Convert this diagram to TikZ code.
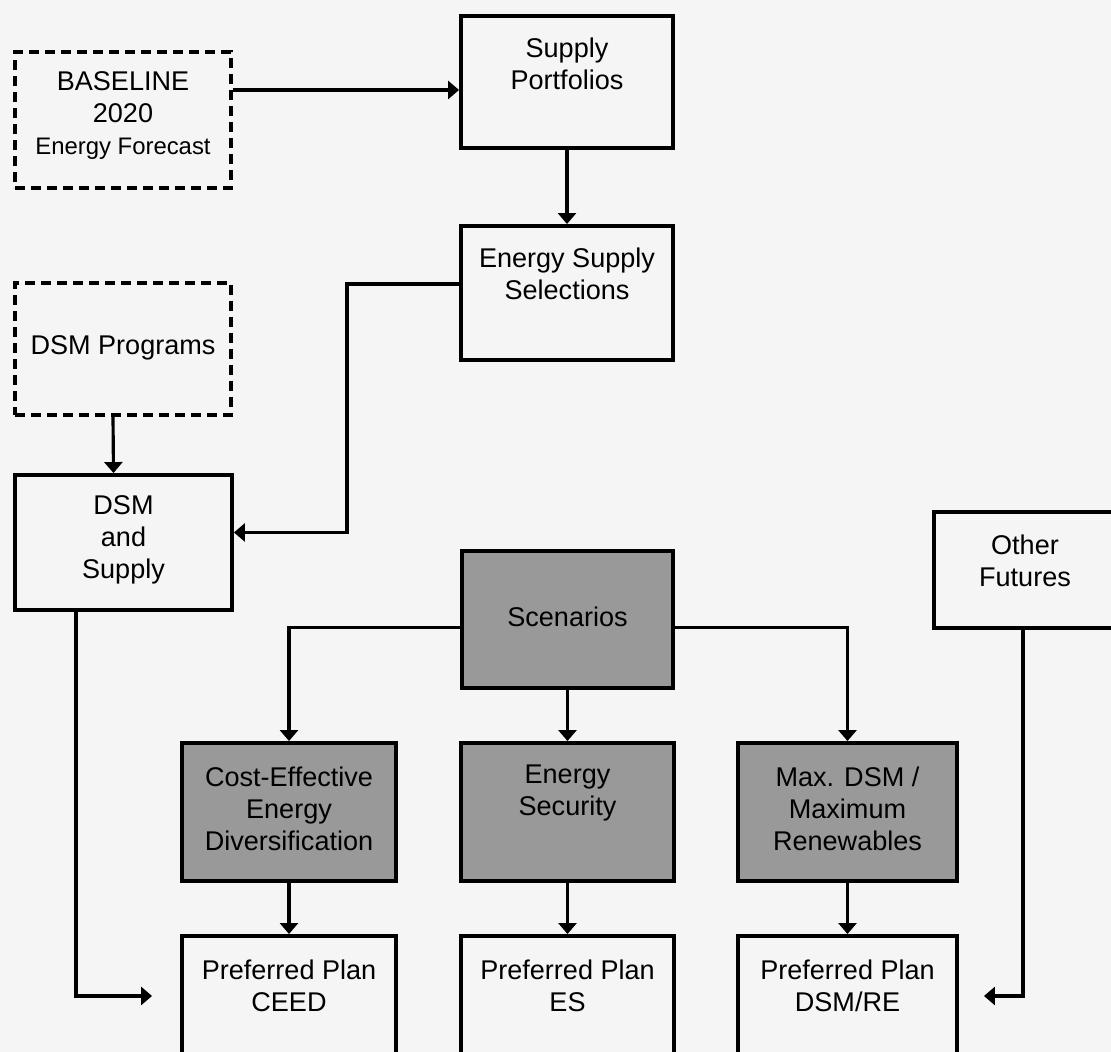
\documentclass[tikz,border=0pt]{standalone}
\usepackage{fontspec}
\setmainfont{Liberation Sans}
\usetikzlibrary{positioning,arrows.meta}

\tikzset{
  box/.style={draw, line width=1.1pt, rectangle, inner sep=0pt},
  dashbox/.style={draw, line width=0.9pt, dash pattern=on 1mm off 0.6mm, inner sep=0pt},
  shaded/.style={box, fill=black!40},
  lbl/.style={align=center, font=\fontsize{7.7}{9.1}\selectfont, inner sep=0pt},
  link/.style={line width=0.9pt, -{Triangle[length=1.1mm,width=1.8mm]}},
}

\begin{document}
\begin{tikzpicture}
    \fill[black!4] (0,0) rectangle (11.11,-10.52);
    \useasboundingbox (0,0) rectangle (11.11,-10.52);

    % Inputs (dashed)
    \node[dashbox, minimum width=2.16cm, minimum height=1.36cm] (base) at (1.23,-1.20) {};
    \node[lbl] (base-t) at (1.23,-1.16) {BASELINE\\2020\\{\fontsize{6.8}{9.1}\selectfont Energy Forecast}};
    \node[dashbox, minimum width=2.16cm, minimum height=1.32cm] (dsmp) at (1.23,-3.49) {};
    \node[lbl] (dsmp-t) at (1.23,-3.48) {DSM Programs};

    % Supply side
    \node[box, minimum width=2.12cm, minimum height=1.32cm] (sp) at (5.67,-0.82) {};
    \node[lbl] (sp-t) at (5.67,-0.64) {Supply\\Portfolios};
    \node[box, minimum width=2.12cm, minimum height=1.34cm] (ess) at (5.67,-2.93) {};
    \node[lbl] (ess-t) at (5.67,-2.74) {Energy Supply\\Selections};
    \node[box, minimum width=2.17cm, minimum height=1.35cm] (dsms) at (1.235,-5.425) {};
    \node[lbl] (dsms-t) at (1.235,-5.40) {DSM\\and\\Supply};
    \node[box, minimum width=1.82cm, minimum height=1.16cm] (oth) at (10.25,-5.70) {};
    \node[lbl] (oth-t) at (10.25,-5.61) {Other\\Futures};

    % Scenarios (shaded)
    \node[shaded, minimum width=2.11cm, minimum height=1.37cm] (scen) at (5.675,-6.195) {};
    \node[lbl] (scen-t) at (5.675,-6.17) {Scenarios};
    \node[shaded, minimum width=2.14cm, minimum height=1.38cm] (ced) at (2.89,-8.12) {};
    \node[lbl] (ced-t) at (2.89,-8.09) {Cost-Effective\\Energy\\Diversification};
    \node[shaded, minimum width=2.13cm, minimum height=1.38cm] (es) at (5.675,-8.12) {};
    \node[lbl] (es-t) at (5.675,-7.93) {Energy\\Security};
    \node[shaded, minimum width=2.19cm, minimum height=1.38cm] (mx) at (8.475,-8.12) {};
    \node[lbl] (mx-t) at (8.475,-8.09) {Max. DSM /\\Maximum\\Renewables};

    % Preferred plans
    \node[box, minimum width=2.14cm, minimum height=1.24cm] (pced) at (2.89,-9.98) {};
    \node[lbl] (pced-t) at (2.89,-9.86) {Preferred Plan\\CEED};
    \node[box, minimum width=2.13cm, minimum height=1.24cm] (pes) at (5.675,-9.98) {};
    \node[lbl] (pes-t) at (5.675,-9.86) {Preferred Plan\\ES};
    \node[box, minimum width=2.19cm, minimum height=1.24cm] (pmx) at (8.475,-9.98) {};
    \node[lbl] (pmx-t) at (8.475,-9.86) {Preferred Plan\\DSM/RE};

    % Connectors
    \coordinate (bend) at (3.47,-2.84);
    \draw[link] ([yshift=3mm]base.east) -- ([yshift=3mm]base.east -| sp.west);
    \draw[link] (sp.south) -- (ess.north);
    \draw[link] (ess.west |- bend) -- (bend) |- ([yshift=1mm]dsms.east);
    \draw[link] ([xshift=-1mm]dsmp.south) -- ([xshift=-1mm]dsms.north);
    \draw[link] ([xshift=-4.75mm]dsms.south) |- ([xshift=-2.8mm,yshift=0.2mm]pced.west);
    \draw[link] ([xshift=-0.2mm]oth.south) |- ([xshift=2.5mm,yshift=0.2mm]pmx.east);
    \draw[link] ([yshift=-0.8mm]scen.west) -| (ced.north);
    \draw[link] ([yshift=-0.8mm]scen.east) -| (mx.north);
    \draw[link] (scen.south) -- (es.north);
    \foreach \s/\p in {ced/pced, es/pes, mx/pmx}
        \draw[link] (\s.south) -- (\p.north);
\end{tikzpicture}
\end{document}
